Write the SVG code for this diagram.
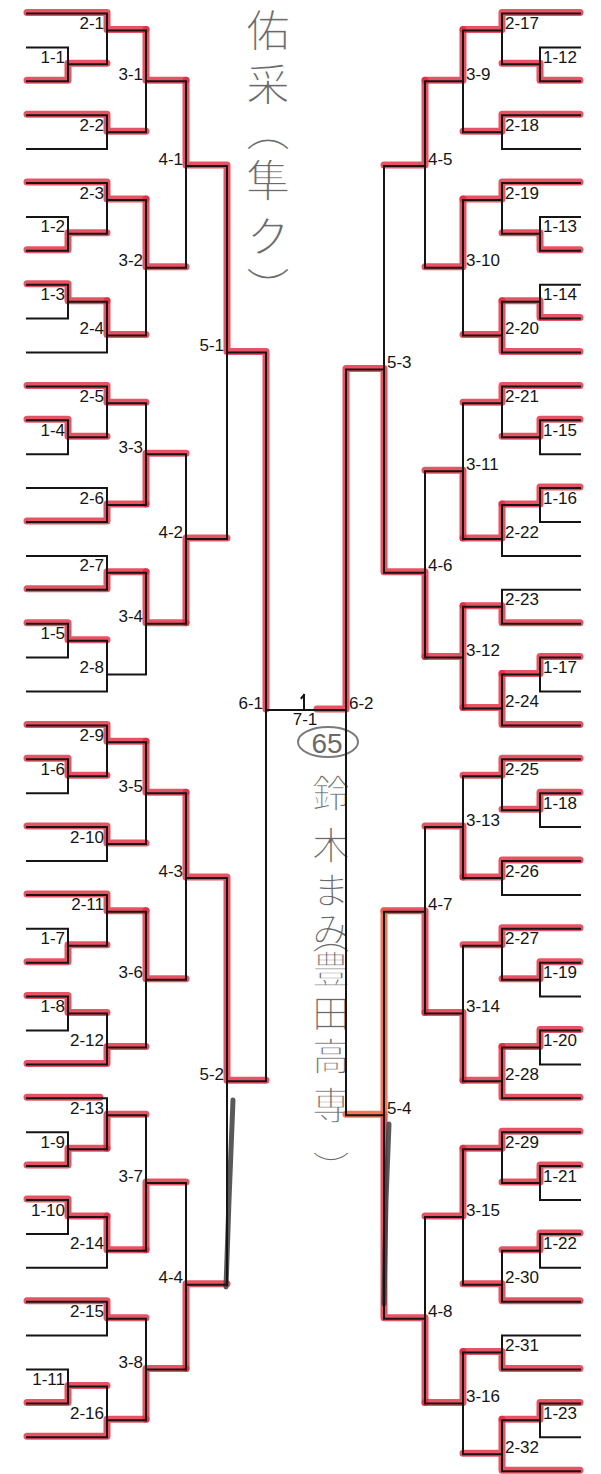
<svg xmlns="http://www.w3.org/2000/svg" width="601" height="1474" viewBox="0 0 601 1474">
<style>
.bk{fill:none;stroke:#151515;stroke-width:2;stroke-linecap:square}
.rd{fill:none;stroke:#e2283c;stroke-width:7;stroke-opacity:0.8;stroke-linecap:round;stroke-linejoin:round}
.or{fill:none;stroke:#f0603a;stroke-width:7;stroke-opacity:0.85;stroke-linecap:round}
.gr{fill:none;stroke:#3c3c3c;stroke-width:5;stroke-opacity:0.85;stroke-linecap:round}
.lb{font-family:"Liberation Sans",Arial,sans-serif;font-size:17px;fill:#151515}
.l{text-anchor:end}
.r{text-anchor:start}
.hw{font-family:"Noto Sans CJK JP","Noto Sans CJK SC",sans-serif;fill:#6a6a6a;stroke:#ffffff;stroke-width:1.3px;writing-mode:vertical-rl}
</style>
<rect width="601" height="1474" fill="#ffffff"/>
<g id="annotation-top">
<text class="hw" x="268" y="8 62 108 158 214 266" style="font-size:44px">佑采（隼ク）</text>
</g>
<g id="annotation-winner">
<ellipse cx="328" cy="742" rx="30" ry="15" fill="none" stroke="#7a7a7a" stroke-width="2"/>
<text x="327" y="753" font-size="28" text-anchor="middle" font-family="Liberation Sans, sans-serif" fill="#6a6a6a">65</text>
<text class="hw" x="331" y="774 826 871 911 916 950 994 1037 1086 1150" style="font-size:38px">鈴木まみ（豊田高専）</text>
</g>
<g id="highlights" transform="translate(0,-1)">
<path class="rd" d="M27 81.3H68V64.35H107M27 250.8H68V233.85H107M27 284.7H68V301.65H107M27 420.3H68V437.25H107M27 623.7H68V640.65H107M27 759.3H68V776.25H107M27 962.7H68V945.75H107M27 996.6H68V1013.55H107M27 1166.1H68V1149.15H107M27 1200H68V1216.95H107M27 1403.4H68V1386.45H107"/>
<path class="rd" d="M27 13.5H107V30.45H146M27 115.2H107V132.15H146M27 183H107V199.95H146M107 301.65V335.55H146M27 386.4H107V403.35H146M27 522H107V505.05H146M27 589.8H107V572.85H146M27 725.4H107V742.35H146M27 827.1H107V844.05H146M27 894.9H107V911.85H146M27 1064.4H107V1047.45H146M107 1149.15V1115.25H146M27 1098.3H100M107 1216.95V1250.85H146M27 1301.7H107V1318.65H146M27 1437.3H107V1420.35H146"/>
<path class="rd" d="M146 30.45V81.3H186M146 199.95V267.75H186M146 505.05V454.2H186M146 572.85V623.7H186M146 742.35V793.2H186M146 911.85V979.65H186M146 1250.85V1183.05H186M146 1420.35V1369.5H186"/>
<path class="rd" d="M186 81.3V166.05H227M186 623.7V538.95H227M186 793.2V877.95H227M186 1369.5V1284.75H227M227 166.05V352.5H266M227 877.95V1081.35H266M266 352.5V710"/>
<path class="rd" d="M580 81.3H540V64.35H502M580 250.8H540V233.85H502M580 318.6H540V301.65H502M580 420.3H540V437.25H502M580 488.1H540V505.05H502M580 657.6H540V674.55H502M580 793.2H540V810.15H502M580 962.7H540V979.65H502M580 1030.5H540V1047.45H502M580 1166.1H540V1183.05H502M580 1233.9H540V1250.85H502M580 1403.4H540V1420.35H502"/>
<path class="rd" d="M580 13.5H502V30.45H463M580 115.2H502V132.15H463M580 183H502V199.95H463M580 352.5H502V301.65M502 335.55H463M580 386.4H502V403.35H463M502 505.05V538.95H463M580 623.7H502V606.75H463M580 725.4H502V674.55M502 708.45H463M580 759.3H502V776.25H463M580 861H502V877.95H463M580 928.8H502V945.75H463M580 1098.3H502V1047.45M502 1081.35H463M580 1132.2H502V1149.15H463M580 1301.7H502V1284.75H463M580 1369.5H502V1352.55H463M580 1471.2H502V1420.35M502 1454.25H463"/>
<path class="rd" d="M463 30.45V81.3H425M463 199.95V267.75H425M463 538.95V471.15H425M463 606.75V708.45M463 657.6H425M463 877.95V827.1H425M463 1081.35V1013.55H425M463 1149.15V1216.95H425M463 1352.55V1403.4H425"/>
<path class="rd" d="M425 81.3V166.05H384M425 657.6V572.85H384M425 1013.55V911.85H384M425 1403.4V1318.65H384M384 572.85V369.45H346M346 369.45V710H317M384 1115.25V1318.65"/>
<path class="or" d="M384 911.85V1115.25H346"/>
</g>
<g id="pencil">
<path class="gr" d="M233 1100L229 1200L226 1287"/>
<path class="gr" d="M389 1124L386 1200L384 1304"/>
</g>
<g id="connectors">
<path class="bk" d="M27 47.4H68V81.3H27M27 216.9H68V250.8H27M27 284.7H68V318.6H27M27 420.3H68V454.2H27M27 623.7H68V657.6H27M27 759.3H68V793.2H27M27 928.8H68V962.7H27M27 996.6H68V1030.5H27M27 1132.2H68V1166.1H27M27 1200H68V1233.9H27M27 1369.5H68V1403.4H27"/>
<path class="bk" d="M27 13.5H107V64.35H68M27 115.2H107V149.1H27M27 183H107V233.85H68M68 301.65H107V352.5H27M27 386.4H107V437.25H68M27 488.1H107V522H27M27 555.9H107V589.8H27M68 640.65H107V691.5H27M27 725.4H107V776.25H68M27 827.1H107V861H27M27 894.9H107V945.75H68M68 1013.55H107V1064.4H27M27 1098.3H107V1149.15H68M68 1216.95H107V1267.8H27M27 1301.7H107V1335.6H27M68 1386.45H107V1437.3H27"/>
<path class="bk" d="M107 30.45H146V132.15H107M107 199.95H146V335.55H107M107 403.35H146V505.05H107M107 572.85H146V674.55H107M107 742.35H146V844.05H107M107 911.85H146V1047.45H107M107 1115.25H146V1250.85H107M107 1318.65H146V1420.35H107"/>
<path class="bk" d="M146 81.3H186V267.75H146M146 454.2H186V623.7H146M146 793.2H186V979.65H146M146 1183.05H186V1369.5H146M186 166.05H227V538.95H186M186 877.95H227V1284.75H186M227 352.5H266V1081.35H227"/>
<path class="bk" d="M580 47.4H540V81.3H580M580 216.9H540V250.8H580M580 284.7H540V318.6H580M580 420.3H540V454.2H580M580 488.1H540V522H580M580 657.6H540V691.5H580M580 793.2H540V827.1H580M580 962.7H540V996.6H580M580 1030.5H540V1064.4H580M580 1166.1H540V1200H580M580 1233.9H540V1267.8H580M580 1403.4H540V1437.3H580"/>
<path class="bk" d="M580 13.5H502V64.35H540M580 115.2H502V149.1H580M580 183H502V233.85H540M540 301.65H502V352.5H580M580 386.4H502V437.25H540M540 505.05H502V555.9H580M580 589.8H502V623.7H580M540 674.55H502V725.4H580M580 759.3H502V810.15H540M580 861H502V894.9H580M580 928.8H502V979.65H540M540 1047.45H502V1098.3H580M580 1132.2H502V1183.05H540M540 1250.85H502V1301.7H580M580 1335.6H502V1369.5H580M540 1420.35H502V1471.2H580"/>
<path class="bk" d="M502 30.45H463V132.15H502M502 199.95H463V335.55H502M502 403.35H463V538.95H502M502 606.75H463V708.45H502M502 776.25H463V877.95H502M502 945.75H463V1081.35H502M502 1149.15H463V1284.75H502M502 1352.55H463V1454.25H502"/>
<path class="bk" d="M463 81.3H425V267.75H463M463 471.15H425V657.6H463M463 827.1H425V1013.55H463M463 1216.95H425V1403.4H463M425 166.05H384V572.85H425M425 911.85H384V1318.65H425M384 369.45H346V1115.25H384"/>
<path class="bk" d="M266 710H346M304 695V710M301.5 698L304 695"/>
</g>
<g id="n-1-1"><text class="lb l" x="65" y="62.9">1-1</text></g>
<g id="n-1-2"><text class="lb l" x="65" y="232.4">1-2</text></g>
<g id="n-1-3"><text class="lb l" x="65" y="300.2">1-3</text></g>
<g id="n-1-4"><text class="lb l" x="65" y="435.8">1-4</text></g>
<g id="n-1-5"><text class="lb l" x="65" y="639.2">1-5</text></g>
<g id="n-1-6"><text class="lb l" x="65" y="774.8">1-6</text></g>
<g id="n-1-7"><text class="lb l" x="65" y="944.3">1-7</text></g>
<g id="n-1-8"><text class="lb l" x="65" y="1012.1">1-8</text></g>
<g id="n-1-9"><text class="lb l" x="65" y="1147.7">1-9</text></g>
<g id="n-1-10"><text class="lb l" x="65" y="1215.5">1-10</text></g>
<g id="n-1-11"><text class="lb l" x="65" y="1385">1-11</text></g>
<g id="n-2-1"><text class="lb l" x="104" y="29">2-1</text></g>
<g id="n-2-2"><text class="lb l" x="104" y="130.7">2-2</text></g>
<g id="n-2-3"><text class="lb l" x="104" y="198.5">2-3</text></g>
<g id="n-2-4"><text class="lb l" x="104" y="334.1">2-4</text></g>
<g id="n-2-5"><text class="lb l" x="104" y="401.9">2-5</text></g>
<g id="n-2-6"><text class="lb l" x="104" y="503.6">2-6</text></g>
<g id="n-2-7"><text class="lb l" x="104" y="571.4">2-7</text></g>
<g id="n-2-8"><text class="lb l" x="104" y="673.1">2-8</text></g>
<g id="n-2-9"><text class="lb l" x="104" y="740.9">2-9</text></g>
<g id="n-2-10"><text class="lb l" x="104" y="842.6">2-10</text></g>
<g id="n-2-11"><text class="lb l" x="104" y="910.4">2-11</text></g>
<g id="n-2-12"><text class="lb l" x="104" y="1046">2-12</text></g>
<g id="n-2-13"><text class="lb l" x="104" y="1113.8">2-13</text></g>
<g id="n-2-14"><text class="lb l" x="104" y="1249.4">2-14</text></g>
<g id="n-2-15"><text class="lb l" x="104" y="1317.2">2-15</text></g>
<g id="n-2-16"><text class="lb l" x="104" y="1418.9">2-16</text></g>
<g id="n-3-1"><text class="lb l" x="143" y="79.8">3-1</text></g>
<g id="n-3-2"><text class="lb l" x="143" y="266.3">3-2</text></g>
<g id="n-3-3"><text class="lb l" x="143" y="452.7">3-3</text></g>
<g id="n-3-4"><text class="lb l" x="143" y="622.2">3-4</text></g>
<g id="n-3-5"><text class="lb l" x="143" y="791.7">3-5</text></g>
<g id="n-3-6"><text class="lb l" x="143" y="978.2">3-6</text></g>
<g id="n-3-7"><text class="lb l" x="143" y="1181.6">3-7</text></g>
<g id="n-3-8"><text class="lb l" x="143" y="1368">3-8</text></g>
<g id="n-4-1"><text class="lb l" x="183" y="164.6">4-1</text></g>
<g id="n-4-2"><text class="lb l" x="183" y="537.5">4-2</text></g>
<g id="n-4-3"><text class="lb l" x="183" y="876.5">4-3</text></g>
<g id="n-4-4"><text class="lb l" x="183" y="1283.3">4-4</text></g>
<g id="n-5-1"><text class="lb l" x="224" y="351">5-1</text></g>
<g id="n-5-2"><text class="lb l" x="224" y="1079.9">5-2</text></g>
<g id="n-6-1"><text class="lb l" x="263" y="708.5">6-1</text></g>
<g id="n-7-1"><text class="lb" x="305" y="725" text-anchor="middle">7-1</text></g>
<g id="n-6-2"><text class="lb r" x="349" y="708.5">6-2</text></g>
<g id="n-5-3"><text class="lb r" x="387" y="368">5-3</text></g>
<g id="n-5-4"><text class="lb r" x="387" y="1113.8">5-4</text></g>
<g id="n-4-5"><text class="lb r" x="428" y="164.6">4-5</text></g>
<g id="n-4-6"><text class="lb r" x="428" y="571.4">4-6</text></g>
<g id="n-4-7"><text class="lb r" x="428" y="910.4">4-7</text></g>
<g id="n-4-8"><text class="lb r" x="428" y="1317.2">4-8</text></g>
<g id="n-3-9"><text class="lb r" x="466" y="79.8">3-9</text></g>
<g id="n-3-10"><text class="lb r" x="466" y="266.3">3-10</text></g>
<g id="n-3-11"><text class="lb r" x="466" y="469.7">3-11</text></g>
<g id="n-3-12"><text class="lb r" x="466" y="656.1">3-12</text></g>
<g id="n-3-13"><text class="lb r" x="466" y="825.6">3-13</text></g>
<g id="n-3-14"><text class="lb r" x="466" y="1012.1">3-14</text></g>
<g id="n-3-15"><text class="lb r" x="466" y="1215.5">3-15</text></g>
<g id="n-3-16"><text class="lb r" x="466" y="1401.9">3-16</text></g>
<g id="n-2-17"><text class="lb r" x="505" y="29">2-17</text></g>
<g id="n-2-18"><text class="lb r" x="505" y="130.7">2-18</text></g>
<g id="n-2-19"><text class="lb r" x="505" y="198.5">2-19</text></g>
<g id="n-2-20"><text class="lb r" x="505" y="334.1">2-20</text></g>
<g id="n-2-21"><text class="lb r" x="505" y="401.9">2-21</text></g>
<g id="n-2-22"><text class="lb r" x="505" y="537.5">2-22</text></g>
<g id="n-2-23"><text class="lb r" x="505" y="605.3">2-23</text></g>
<g id="n-2-24"><text class="lb r" x="505" y="707">2-24</text></g>
<g id="n-2-25"><text class="lb r" x="505" y="774.8">2-25</text></g>
<g id="n-2-26"><text class="lb r" x="505" y="876.5">2-26</text></g>
<g id="n-2-27"><text class="lb r" x="505" y="944.3">2-27</text></g>
<g id="n-2-28"><text class="lb r" x="505" y="1079.9">2-28</text></g>
<g id="n-2-29"><text class="lb r" x="505" y="1147.7">2-29</text></g>
<g id="n-2-30"><text class="lb r" x="505" y="1283.3">2-30</text></g>
<g id="n-2-31"><text class="lb r" x="505" y="1351.1">2-31</text></g>
<g id="n-2-32"><text class="lb r" x="505" y="1452.8">2-32</text></g>
<g id="n-1-12"><text class="lb r" x="543" y="62.9">1-12</text></g>
<g id="n-1-13"><text class="lb r" x="543" y="232.4">1-13</text></g>
<g id="n-1-14"><text class="lb r" x="543" y="300.2">1-14</text></g>
<g id="n-1-15"><text class="lb r" x="543" y="435.8">1-15</text></g>
<g id="n-1-16"><text class="lb r" x="543" y="503.6">1-16</text></g>
<g id="n-1-17"><text class="lb r" x="543" y="673.1">1-17</text></g>
<g id="n-1-18"><text class="lb r" x="543" y="808.7">1-18</text></g>
<g id="n-1-19"><text class="lb r" x="543" y="978.2">1-19</text></g>
<g id="n-1-20"><text class="lb r" x="543" y="1046">1-20</text></g>
<g id="n-1-21"><text class="lb r" x="543" y="1181.6">1-21</text></g>
<g id="n-1-22"><text class="lb r" x="543" y="1249.4">1-22</text></g>
<g id="n-1-23"><text class="lb r" x="543" y="1418.9">1-23</text></g>
</svg>
